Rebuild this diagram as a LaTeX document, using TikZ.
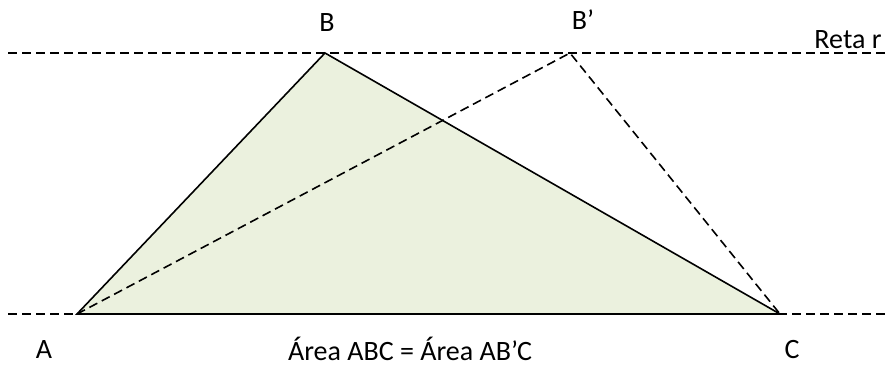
\documentclass[tikz,border=0pt]{standalone}
\usepackage{fontspec}
\setmainfont{Carlito}
\usepackage{tikz}
\usetikzlibrary{calc,positioning}
\definecolor{areafill}{RGB}{235,241,222}

\begin{document}
\begin{tikzpicture}[x=1pt,y=-1pt,line width=1.6pt,
    dsh/.style={dash pattern=on 9pt off 5pt},
    lbl/.style={font=\fontsize{28}{32}\selectfont,inner sep=0pt,anchor=base}]
  \useasboundingbox (0,0) rectangle (886,367);
  % points of the construction
  \coordinate (A) at (77,314);
  \coordinate (B) at (325,53);
  \coordinate (Bp) at (570,53);
  \coordinate (C) at (780,314);
  % the two parallels
  \coordinate (r0) at (8,53); \coordinate (r1) at (886,53);
  \coordinate (s0) at (8,314); \coordinate (s1) at (886,314);
  \draw[dsh] (r0)--(r1);
  \draw[dsh] (s0)--(s1);
  % triangle ABC, then AB'C dashed
  \filldraw[fill=areafill] (A)--(B)--(C)--cycle;
  \draw[dsh] (A)--(Bp)--(C);
  \node[lbl] (lA) at (44,358) {A};
  \node[lbl] (lB) at (327,31) {B};
  \node[lbl] (lBp) at (583,29) {B’};
  \node[lbl] (lC) at (792,358) {C};
  \node[lbl] (lr) at (848,48) {Reta r};
  \node[lbl] (eq) at (410,360) {Área ABC = Área AB’C};
\end{tikzpicture}
\end{document}
